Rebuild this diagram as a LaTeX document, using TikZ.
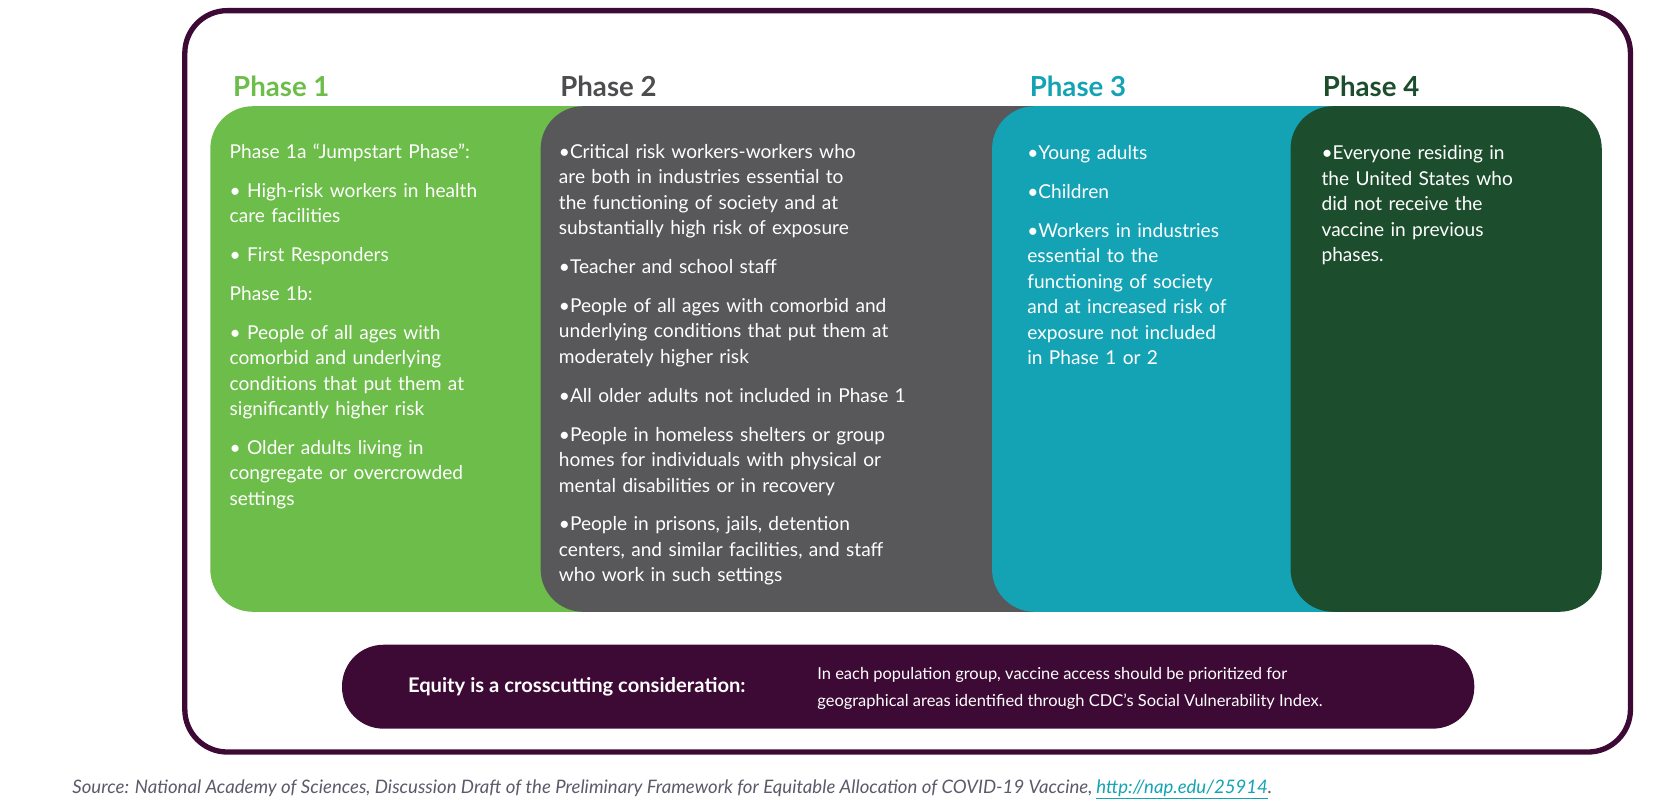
\documentclass[tikz,border=0pt]{standalone}
\usepackage{fontspec}
\setmainfont{Lato}
\definecolor{frame}{HTML}{3D0A35}
\definecolor{pone}{HTML}{6DBD4A}
\definecolor{ptwo}{HTML}{58585A}
\definecolor{ptwoh}{HTML}{4D4D4F}
\definecolor{pthree}{HTML}{14A3B5}
\definecolor{pfour}{HTML}{1C4E2E}
\definecolor{capt}{HTML}{5A5A6A}
\newcommand{\bi}[2]{\par\hangindent=#1\hangafter=1 \textbullet#2\par\vspace{12.5pt}}
\newcommand{\hd}[1]{\par\noindent #1\par\vspace{12.5pt}}
\begin{document}
\begin{tikzpicture}[x=1pt,y=-1pt,
  phase/.style={rounded corners=40pt},
  hdr/.style={anchor=base west,font=\fontsize{26}{30}\selectfont\bfseries},
  body/.style={anchor=north west,inner sep=0pt,text=white,align=left,
     font=\fontsize{18}{24}\selectfont}]
\useasboundingbox (0,0) rectangle (1560,762);
\draw[frame,line width=5pt,rounded corners=40pt] (174,10) rectangle (1535,708);
\fill[pone,phase] (198,100) rectangle (620,576);
\fill[ptwo,phase] (509,100) rectangle (1040,576);
\fill[pthree,phase] (934,100) rectangle (1300,576);
\fill[pfour,phase] (1215,100) rectangle (1508,576);
\node[hdr,text=pone] (h1) at (216,91) {Phase 1};
\node[hdr,text=ptwoh] (h2) at (524,91) {Phase 2};
\node[hdr,text=pthree] (h3) at (966,91) {Phase 3};
\node[hdr,text=pfour] (h4) at (1242,91) {Phase 4};
\node[body,text width=300pt] (b1) at (216,125) {%
\hd{Phase 1a “Jumpstart Phase”:}
\bi{12pt}{ High-risk workers in health\\ care facilities}
\bi{12pt}{ First Responders}
\hd{Phase 1b:}
\bi{12pt}{ People of all ages with\\ comorbid and underlying\\ conditions that put them at\\ significantly higher risk}
\bi{12pt}{ Older adults living in\\ congregate or overcrowded\\ settings}};
\node[body,text width=400pt] (b2) at (526,125) {%
\bi{10pt}{Critical risk workers-workers who\\ are both in industries essential to\\ the functioning of society and at\\ substantially high risk of exposure}
\bi{10pt}{Teacher and school staff}
\bi{10pt}{People of all ages with comorbid and\\ underlying conditions that put them at\\ moderately higher risk}
\bi{10pt}{All older adults not included in Phase 1}
\bi{10pt}{People in homeless shelters or group\\ homes for individuals with physical or\\ mental disabilities or in recovery}
\bi{10pt}{People in prisons, jails, detention\\ centers, and similar facilities, and staff\\ who work in such settings}};
\node[body,text width=280pt] (b3) at (967,126) {%
\bi{10pt}{Young adults}
\bi{10pt}{Children}
\bi{10pt}{Workers in industries\\ essential to the\\ functioning of society\\ and at increased risk of\\ exposure not included\\ in Phase 1 or 2}};
\node[body,text width=260pt] (b4) at (1244,126) {%
\bi{10pt}{Everyone residing in\\ the United States who\\ did not receive the\\ vaccine in previous\\ phases.}};
\fill[frame,rounded corners=39pt] (322,607) rectangle (1388,686);
\node[text=white,font=\fontsize{19}{23}\selectfont\bfseries] (eq) at (543,647) {Equity is a crosscutting consideration:};
\node[anchor=west,text=white,align=left,font=\fontsize{15.5}{25}\selectfont] (eqt) at (766,648) {In each population group, vaccine access should be prioritized for\\geographical areas identified through CDC’s Social Vulnerability Index.};
\node[anchor=base west,text=capt,inner sep=0pt,font=\fontsize{17.5}{20}\selectfont\itshape] (src) at (68,747) {Source: National Academy of Sciences, Discussion Draft of the Preliminary Framework for Equitable Allocation of COVID-19 Vaccine, \textcolor{pthree}{\underline{http://nap.edu/25914}}.};
\end{tikzpicture}
\end{document}
